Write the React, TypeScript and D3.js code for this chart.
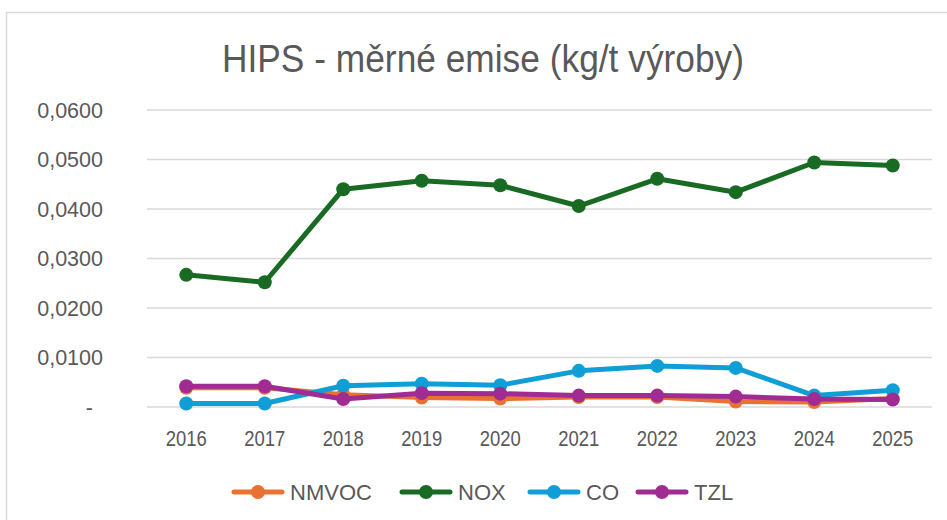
import React from "react";
import * as d3 from "d3";

const years = ["2016","2017","2018","2019","2020","2021","2022","2023","2024","2025"];
const nmvoc = [0.0039,0.0039,0.0025,0.0019,0.0017,0.0020,0.0020,0.0011,0.0010,0.0017];
const nox = [0.0267,0.0252,0.0440,0.0457,0.0448,0.0406,0.0461,0.0434,0.0494,0.0488];
const co = [0.0007,0.0007,0.0043,0.0047,0.0044,0.0073,0.0083,0.0079,0.0023,0.0034];
const tzl = [0.0042,0.0042,0.0016,0.0028,0.0027,0.0023,0.0023,0.0021,0.0016,0.0015];
const yTicks = [0,0.01,0.02,0.03,0.04,0.05,0.06];
const seriesNames = ["NMVOC","NOX","CO","TZL"];
const seriesColors = ["#E97132","#196B24","#0F9ED5","#A02B93"];
const seriesValues = [nmvoc, nox, co, tzl];
const title = "HIPS - měrné emise (kg/t výroby)";

export default function App() {
  const W = 947, H = 520;
  const x = d3.scaleBand<string>().domain(years).range([147, 932]);
  const y = d3.scaleLinear().domain([0, 0.06]).range([407, 110]);
  const cx = (yr: string) => (x(yr) as number) + x.bandwidth() / 2;
  const line = d3.line<number>().x((_, i) => cx(years[i])).y((v) => y(v));
  const fmt = (v: number) => (v === 0 ? "-" : d3.format(".4f")(v).replace(".", ","));
  const legendX = [232, 400, 528, 636];
  const textCol = "#595959";
  const font = "'Liberation Sans', Arial, sans-serif";
  return (
    <svg width={W} height={H} style={{ position: "fixed", left: 0, top: 0, background: "#fff" }}>
      <rect x={6.5} y={12.5} width={W + 10} height={H + 10} fill="#fff" stroke="#d9d9d9" strokeWidth={1.5} />
      <text x={483} y={72} textAnchor="middle" fontFamily={font} fontSize={39} fill={textCol} textLength={522} lengthAdjust="spacingAndGlyphs">{title}</text>
      {yTicks.map((t) => (
        <g key={t}>
          <line x1={147} x2={932} y1={y(t)} y2={y(t)} stroke="#d9d9d9" strokeWidth={1.5} />
          <text x={t === 0 ? 93 : 103} y={y(t)} dy="0.35em" textAnchor="end" fontFamily={font} fontSize={21.5} fill={textCol}>{fmt(t)}</text>
        </g>
      ))}
      {years.map((yr) => (
        <text key={yr} x={cx(yr)} y={446} textAnchor="middle" fontFamily={font} fontSize={22} fill={textCol} textLength={41} lengthAdjust="spacingAndGlyphs">{yr}</text>
      ))}
      {seriesValues.map((vals, si) => (
        <g key={si}>
          <path d={line(vals) || ""} fill="none" stroke={seriesColors[si]} strokeWidth={5} strokeLinejoin="round" strokeLinecap="round" />
          {vals.map((v, i) => (
            <circle key={i} cx={cx(years[i])} cy={y(v)} r={7} fill={seriesColors[si]} />
          ))}
        </g>
      ))}
      {seriesNames.map((n, si) => (
        <g key={n} transform={`translate(${legendX[si]},492)`}>
          <line x1={2} x2={50} y1={0} y2={0} stroke={seriesColors[si]} strokeWidth={5} strokeLinecap="round" />
          <circle cx={26} cy={0} r={7} fill={seriesColors[si]} />
          <text x={58} y={0} dy="0.36em" fontFamily={font} fontSize={22} fill={textCol}>{n}</text>
        </g>
      ))}
    </svg>
  );
}
